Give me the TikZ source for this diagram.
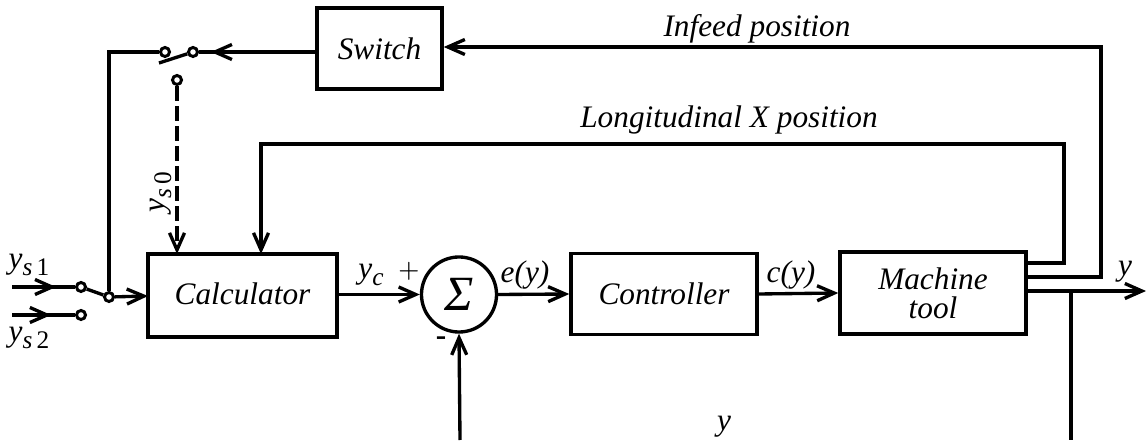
\documentclass[tikz,border=0pt]{standalone}
\usepackage{fontspec}
\setmainfont{Liberation Serif}
\usetikzlibrary{positioning,decorations.markings,arrows.meta}

\tikzset{
  block/.style={draw,line width=.95pt,inner sep=0pt,align=center,font=\itshape\fontsize{8.9}{8.2}\selectfont},
  contact/.style={draw,circle,fill=white,line width=.85pt,inner sep=0pt,minimum size=.09cm},
  wire/.style={line width=.95pt},
  tip/.style={-{Straight Barb[length=1.7mm,width=1.5mm,line width=.95pt]}},
  midtip/.style={postaction={decorate},decoration={markings,mark=at position #1 with {\arrow{Straight Barb[length=1.7mm,width=1.5mm,line width=.95pt]}}}},
  lbl/.style={inner sep=0pt,font=\itshape\fontsize{8.9}{10.5}\selectfont},
}
\newcommand{\lowtxt}[1]{\raisebox{-1.8pt}{\fontsize{7.2}{7.2}\selectfont #1}}
\newcommand{\ysub}[1]{y\lowtxt{\textit{s}\,\upshape #1}}

\begin{document}
\begin{tikzpicture}[x=.01cm,y=-.01cm]
  \useasboundingbox (0,0) rectangle (1146,443);

  \node[block,minimum width=1.25cm,minimum height=.81cm] (switch) at (379.5,48.5) {Switch};
  \node[block,minimum width=1.89cm,minimum height=.83cm] (calc) at (242.5,295.5) {\raisebox{1pt}{Calculator}};
  \node[draw,circle,line width=.95pt,inner sep=0pt,minimum size=.75cm,font=\itshape\fontsize{14}{14}\selectfont] (sum) at (459,294.5) {Σ};
  \node[block,minimum width=1.86cm,minimum height=.81cm] (ctrl) at (664,294) {Controller};
  \node[block,minimum width=1.86cm,minimum height=.82cm] (tool) at (933,293) {Machine\\tool};

  \node[contact] (swa) at (193,52) {};
  \node[contact] (swb) at (165,52) {};
  \node[contact] (swc) at (177,80) {};
  \node[contact] (ina) at (81,287) {};
  \node[contact] (inb) at (81,315) {};
  \node[contact] (pick) at (109,297) {};

  \coordinate (bladeend) at (159,63);
  \coordinate (starta) at (12,287);
  \coordinate (startb) at (12,315);
  \coordinate (switchin) at (317,52);
  \coordinate (calcin) at (148,296);
  \coordinate (dashin) at (177,254);
  \coordinate (longin) at (261,254);
  \coordinate (outa) at (1026,263);
  \coordinate (outb) at (1026,277);
  \coordinate (outc) at (1026,291);
  \coordinate (outend) at (1146,291);
  \coordinate (branch) at (1071,291);
  \coordinate (branchend) at (1071,440);
  \coordinate (fbstart) at (460,440);
  \coordinate (longtop) at (1064,144);
  \coordinate (infeedtop) at (1101,47);

  % inputs and selector
  \draw[wire,midtip=.7] (starta) -- (ina);
  \draw[wire,midtip=.62] (startb) -- (inb);
  \draw[wire] (ina) -- (pick);
  \draw[wire,tip] (pick) -- (calcin);
  \draw[wire] (swb) -| (pick);
  \draw[wire] (swa) -- (bladeend);
  \draw[wire,midtip=.9] (switchin) -- (swa);
  \draw[wire,tip,dash pattern=on .15cm off .05cm] (swc) -- (dashin);

  % main line
  \draw[wire,tip] (calc.east |- sum.west) -- (sum.west);
  \draw[wire,tip] (sum.east) -- (ctrl.west);
  \draw[wire,tip] (ctrl.east) -- (tool.west);
  \draw[wire,tip] (outc) -- (outend);

  % feedback
  \draw[wire,tip] (outa) -| (longtop) -| (longin);
  \draw[wire,tip] (outb) -| (infeedtop) -- (switch.east |- infeedtop);
  \draw[wire] (branch) -- (branchend);
  \draw[wire,tip] (fbstart) -- (sum.south);

  \node[lbl] (infeedlbl) at (757,29) {Infeed position};
  \node[lbl] (longlbl) at (729,120) {Longitudinal X position};
  \node[lbl] (yclbl) at (371,275) {y\lowtxt{c}};
  \node[lbl] (plus) at (409,271) {\fontsize{7.5}{8}\selectfont$+$};
  \node[lbl] (minus) at (441,341) {\upshape\bfseries -};
  \node[lbl] (errlbl) at (525,275) {e(y)};
  \node[lbl] (ctrllbl) at (791,275) {c(y)};
  \node[lbl] (ylbla) at (1125,272) {y};
  \node[lbl] (ylblb) at (724,427) {y};
  \node[lbl] (ysa) at (29,265) {\ysub{1}};
  \node[lbl] (ysb) at (29,338) {\ysub{2}};
  \node[lbl,rotate=90] (ysc) at (161,192) {\ysub{0}};
\end{tikzpicture}
\end{document}
